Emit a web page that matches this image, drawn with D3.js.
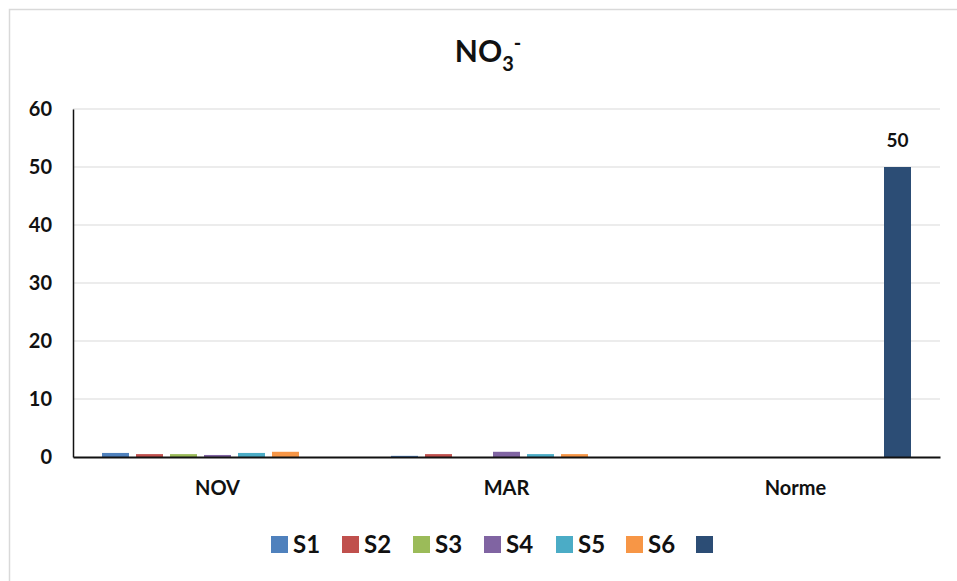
<!DOCTYPE html>
<html>
<head>
<meta charset="utf-8">
<script src="https://cdn.jsdelivr.net/npm/d3@7"></script>
<style>
  html, body { margin: 0; padding: 0; background: #fff; }
  svg { display: block; font-family: Lato, "Open Sans", "DejaVu Sans", sans-serif; font-weight: bold; }
</style>
</head>
<body>
<svg id="chart" width="957" height="581"></svg>
<script>
// Nitrate (NO3-) concentrations per site and season, with the standard limit
const categories = ["NOV", "MAR", "Norme"];
const seriesNames = ["S1", "S2", "S3", "S4", "S5", "S6", ""];
const seriesColors = ["#4F81BD", "#C0504D", "#9BBB59", "#8064A2", "#4BACC6", "#F79646", "#2C4D75"];
const S1 = [0.7, 0.2, null];
const S2 = [0.5, 0.5, null];
const S3 = [0.5, 0, null];
const S4 = [0.35, 0.9, null];
const S5 = [0.7, 0.5, null];
const S6 = [0.9, 0.5, null];
const S7 = [null, null, 50];
const seriesValues = [S1, S2, S3, S4, S5, S6, S7];
const yTicks = [0, 10, 20, 30, 40, 50, 60];
const labelledSeries = 6; // the limit value is annotated on its bar

const svg = d3.select("#chart");
const W = 957, H = 581;
const margin = { left: 73, right: 17, top: 109, bottom: 124 };
const fontStack = "Lato, 'Open Sans', sans-serif";

// outer frame
svg.append("rect")
  .attr("x", 9.5).attr("y", 9.5)
  .attr("width", W + 20).attr("height", H + 20)
  .attr("fill", "none").attr("stroke", "#d9d9d9").attr("stroke-width", 1.5);

const x0 = d3.scaleBand().domain(categories)
  .range([margin.left, W - margin.right]).paddingInner(0).paddingOuter(0);
// each series slot is 34px wide, with a 27px bar inside
const step = 34, gap = 7 / 34;
const groupWidth = step * seriesNames.length;
const x1 = d3.scaleBand().domain(d3.range(seriesNames.length))
  .range([0, groupWidth]).paddingInner(gap).paddingOuter(gap / 2);
const y = d3.scaleLinear().domain([0, 60]).range([H - margin.bottom, margin.top]);

// gridlines
svg.append("g").selectAll("line").data(yTicks.filter(t => t > 0)).join("line")
  .attr("x1", margin.left).attr("x2", W - margin.right)
  .attr("y1", d => y(d)).attr("y2", d => y(d))
  .attr("stroke", "#d9d9d9").attr("stroke-width", 1);

// bars
const groups = svg.append("g").selectAll("g").data(categories).join("g")
  .attr("transform", c => `translate(${x0(c) + (x0.bandwidth() - groupWidth) / 2},0)`);
groups.selectAll("rect")
  .data((c, ci) => seriesValues.map((s, si) => ({ si, v: s[ci] })).filter(d => d.v !== null))
  .join("rect")
  .attr("x", d => x1(d.si))
  .attr("width", x1.bandwidth())
  .attr("y", d => y(d.v))
  .attr("height", d => y(0) - y(d.v))
  .attr("fill", d => seriesColors[d.si]);

// value label on the limit bar
groups.selectAll("text.val")
  .data((c, ci) => seriesValues[labelledSeries][ci] === null ? [] :
    [{ si: labelledSeries, v: seriesValues[labelledSeries][ci] }])
  .join("text").attr("class", "val")
  .attr("x", d => x1(d.si) + x1.bandwidth() / 2)
  .attr("y", d => y(d.v) - 20)
  .attr("text-anchor", "middle")
  .attr("font-size", 19).attr("fill", "#111")
  .text(d => d.v);

// y axis
const yAxis = svg.append("g").attr("transform", `translate(${margin.left},0)`)
  .call(d3.axisLeft(y).tickValues(yTicks).tickSize(0).tickPadding(21));
yAxis.select(".domain").attr("stroke", "#111").attr("stroke-width", 1.5);
yAxis.selectAll("text").attr("font-size", 20).attr("fill", "#111")
  .attr("font-family", fontStack).attr("font-weight", "bold");

// x axis
const xAxis = svg.append("g").attr("transform", `translate(0,${y(0)})`)
  .call(d3.axisBottom(x0).tickSize(0).tickPadding(24));
xAxis.select(".domain").attr("stroke", "#111").attr("stroke-width", 2);
xAxis.selectAll("text").attr("font-size", 20).attr("fill", "#111")
  .attr("font-family", fontStack).attr("font-weight", "bold");

// title
const title = svg.append("text").attr("x", 488).attr("y", 62)
  .attr("text-anchor", "middle").attr("font-size", 30).attr("fill", "#111");
title.append("tspan").text("NO");
title.append("tspan").attr("font-size", 20).attr("dy", 9).text("3");
title.append("tspan").attr("font-size", 20).attr("dy", -21).text("-");

// legend
const legendX = [271, 342, 413, 484, 556, 626, 696];
const legend = svg.append("g").selectAll("g").data(seriesNames).join("g")
  .attr("transform", (d, i) => `translate(${legendX[i]},536)`);
legend.append("rect").attr("width", 17).attr("height", 17)
  .attr("fill", (d, i) => seriesColors[i]);
legend.append("text").attr("x", 22).attr("y", 17)
  .attr("font-size", 24).attr("fill", "#111").text(d => d);
</script>
</body>
</html>
